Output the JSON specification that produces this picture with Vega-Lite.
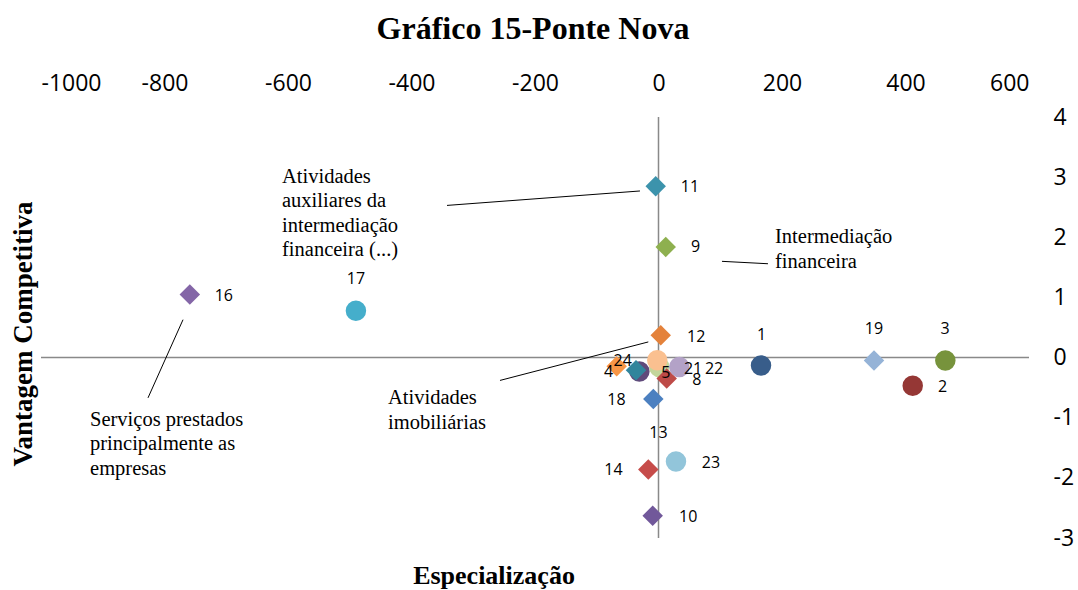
{
  "$schema": "https://vega.github.io/schema/vega-lite/v6.json",
  "autosize": {"type": "none"},
  "width": 988,
  "height": 421,
  "padding": {"left": 41, "top": 117, "right": 49, "bottom": 52},
  "background": "white",
  "config": {"view": {"stroke": null}},
  "title": {"text": "Gráfico 15-Ponte Nova", "font": "Liberation Serif", "fontSize": 32, "fontWeight": "bold", "color": "#000000", "anchor": "middle", "offset": 26, "dx": -2},
  "datasets": {
    "pts": [
      {"id": "1", "x": 166, "y": -0.13, "lx": 167, "ly": 0.38},
      {"id": "2", "x": 411.7, "y": -0.47, "lx": 460, "ly": -0.49},
      {"id": "3", "x": 464.5, "y": -0.05, "lx": 464, "ly": 0.47},
      {"id": "4", "x": -31, "y": -0.23, "lx": -81, "ly": -0.24},
      {"id": "5", "x": 1.3, "y": -0.155, "lx": 12, "ly": -0.25},
      {"id": "8", "x": 13.3, "y": -0.35, "lx": 62, "ly": -0.38},
      {"id": "9", "x": 11.7, "y": 1.84, "lx": 60, "ly": 1.84},
      {"id": "10", "x": -9.4, "y": -2.63, "lx": 48, "ly": -2.65},
      {"id": "11", "x": -4.5, "y": 2.85, "lx": 51, "ly": 2.84},
      {"id": "12", "x": 3.6, "y": 0.37, "lx": 61, "ly": 0.35},
      {"id": "13", "x": -36.4, "y": -0.21, "lx": 0, "ly": -1.26},
      {"id": "14", "x": -16.5, "y": -1.86, "lx": -73, "ly": -1.87},
      {"id": "16", "x": -759, "y": 1.05, "lx": -704, "ly": 1.03},
      {"id": "17", "x": -490, "y": 0.78, "lx": -490, "ly": 1.3},
      {"id": "18", "x": -8.4, "y": -0.69, "lx": -68, "ly": -0.7},
      {"id": "19", "x": 349, "y": -0.05, "lx": 349, "ly": 0.47},
      {"id": "21", "x": 33.7, "y": -0.155, "lx": 56, "ly": -0.19},
      {"id": "22", "x": -2, "y": -0.045, "lx": 90, "ly": -0.19},
      {"id": "23", "x": 28.3, "y": -1.73, "lx": 85, "ly": -1.75},
      {"id": "24", "x": -67.7, "y": -0.145, "lx": -58, "ly": -0.06}
    ],
    "segs": [
      {"x": -342.5, "y": 2.53, "x2": -30, "y2": 2.77},
      {"x": 102.8, "y": 1.6, "x2": 177.3, "y2": 1.56},
      {"x": -256.7, "y": -0.38, "x2": -16.5, "y2": 0.26},
      {"x": -826.7, "y": -0.67, "x2": -770, "y2": 0.63}
    ],
    "notes": [
      {"x": -609.7, "y": 2.91, "t": "Atividades\nauxiliares da\nintermediação\nfinanceira (...)"},
      {"x": 188.7, "y": 1.9, "t": "Intermediação\nfinanceira"},
      {"x": -438, "y": -0.78, "t": "Atividades\nimobiliárias"},
      {"x": -920.6, "y": -1.13, "t": "Serviços prestados\nprincipalmente as\nempresas"}
    ]
  },
  "layer": [
    {
      "data": {"values": [{}]},
      "mark": {"type": "rule", "color": "#898989", "strokeWidth": 1.5},
      "encoding": {"y": {"datum": 0, "type": "quantitative"}}
    },
    {
      "data": {"values": [{}]},
      "mark": {"type": "rule", "color": "#898989", "strokeWidth": 1.5},
      "encoding": {"x": {"datum": 0, "type": "quantitative"}}
    },
    {
      "data": {"name": "segs"},
      "mark": {"type": "rule", "color": "#000000", "strokeWidth": 1},
      "encoding": {
        "x": {"field": "x", "type": "quantitative"},
        "y": {"field": "y", "type": "quantitative"},
        "x2": {"field": "x2"},
        "y2": {"field": "y2"}
      }
    },
    {
      "data": {"name": "pts"},
      "mark": {"type": "point", "filled": true, "opacity": 1, "size": 420},
      "encoding": {
        "x": {
          "field": "x", "type": "quantitative",
          "scale": {"domain": [-1000, 600], "nice": false, "zero": false},
          "axis": {
            "orient": "top", "title": "Especialização", "values": [-1000, -800, -600, -400, -200, 0, 200, 400, 600],
            "labelExpr": "datum.value < 0 ? '-' + abs(datum.value) : '' + datum.value",
            "domain": false, "ticks": false, "grid": false,
            "labelFont": "Open Sans", "labelFontSize": 23, "labelColor": "#000000", "labelPadding": 22,
            "titleFont": "Liberation Serif", "titleFontSize": 26, "titleFontWeight": "bold", "titleColor": "#000000",
            "titleX": 452.5, "titleY": 466.5, "titleAlign": "center", "titleBaseline": "alphabetic"
          }
        },
        "y": {
          "field": "y", "type": "quantitative",
          "scale": {"domain": [-3, 4], "nice": false, "zero": false},
          "axis": {
            "orient": "right", "title": "Vantagem Competitiva", "values": [-3, -2, -1, 0, 1, 2, 3, 4],
            "labelExpr": "datum.value < 0 ? '-' + abs(datum.value) : '' + datum.value",
            "domain": false, "ticks": false, "grid": false,
            "labelFont": "Open Sans", "labelFontSize": 23, "labelColor": "#000000", "labelPadding": 24, "labelAlign": "left",
            "titleFont": "Liberation Serif", "titleFontSize": 27, "titleFontWeight": "bold", "titleColor": "#000000",
            "titleAngle": -90, "titleX": -998, "titleY": 216.5, "titleAlign": "center", "titleBaseline": "alphabetic"
          }
        },
        "color": {
          "field": "id", "type": "nominal", "legend": null,
          "scale": {
            "domain": ["1", "2", "3", "4", "5", "8", "9", "10", "11", "12", "13", "14", "16", "17", "18", "19", "21", "22", "23", "24"],
            "range": ["#385D8A", "#953735", "#77933C", "#604A7B", "#C3D69B", "#BE4B48", "#8EB04F", "#71589A", "#3C93AC", "#E4823B", "#31859C", "#C64C4A", "#8466A7", "#45AECB", "#4C80C0", "#95B3D7", "#B3A2C7", "#FAC090", "#92C5DA", "#F79646"]
          }
        },
        "shape": {
          "field": "id", "type": "nominal", "legend": null,
          "scale": {
            "domain": ["1", "2", "3", "4", "5", "8", "9", "10", "11", "12", "13", "14", "16", "17", "18", "19", "21", "22", "23", "24"],
            "range": ["circle", "circle", "circle", "circle", "circle", "diamond", "diamond", "diamond", "diamond", "diamond", "diamond", "diamond", "diamond", "circle", "diamond", "diamond", "circle", "circle", "circle", "diamond"]
          }
        }
      }
    },
    {
      "data": {"name": "pts"},
      "mark": {"type": "text", "font": "Open Sans", "fontSize": 16, "color": "#000000", "align": "center", "baseline": "middle"},
      "encoding": {
        "x": {"field": "lx", "type": "quantitative"},
        "y": {"field": "ly", "type": "quantitative"},
        "text": {"field": "id"}
      }
    },
    {
      "data": {"name": "notes"},
      "mark": {"type": "text", "font": "Liberation Serif", "fontSize": 20.5, "color": "#000000", "align": "left", "baseline": "alphabetic", "lineBreak": "\n", "lineHeight": 24.5},
      "encoding": {
        "x": {"field": "x", "type": "quantitative"},
        "y": {"field": "y", "type": "quantitative"},
        "text": {"field": "t"}
      }
    }
  ]
}
